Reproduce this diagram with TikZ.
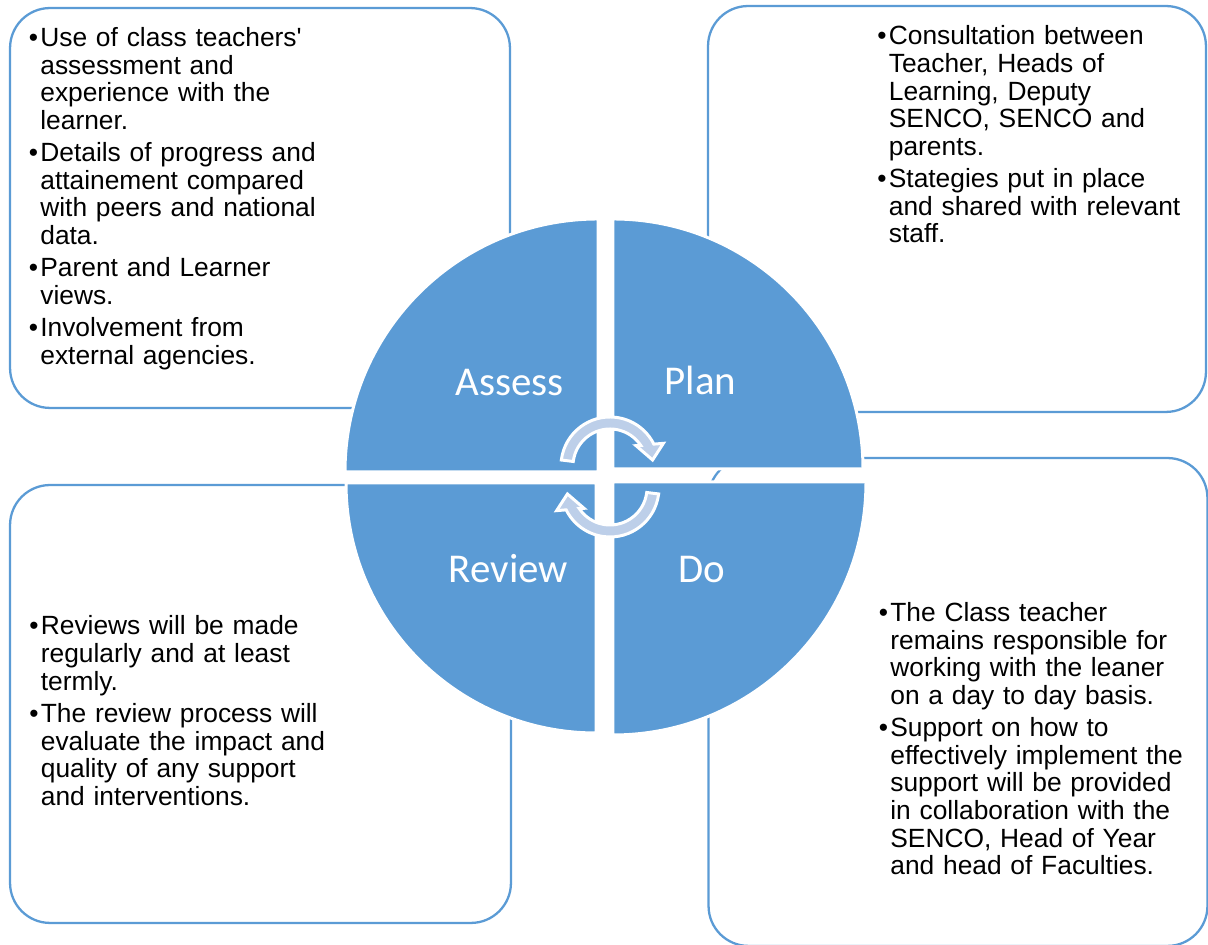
\documentclass[tikz,border=0pt]{standalone}
\usepackage{fontspec}
\setmainfont{Liberation Sans}
\newfontfamily\calfont{Carlito}
\usepackage{tikz}
\definecolor{cycleblue}{RGB}{91,155,213}
\definecolor{arrowblue}{RGB}{189,207,233}
\newcommand{\bul}{\leftskip=6.55pt\hspace*{-6.55pt}\makebox[6.55pt][l]{\textbullet}}
\newcommand{\nxt}{\par\vspace{2.7pt}}

\begin{document}
\begin{tikzpicture}[
    x=0.02cm, y=0.02cm,
    box/.style={rectangle, draw=cycleblue, fill=white, line width=1.3pt, rounded corners=0.8cm},
    quad/.style={fill=cycleblue, draw=white, line width=1.7pt},
    lbl/.style={anchor=base, inner sep=0pt, text=white, font=\calfont\fontsize{23.3}{28}\selectfont},
    txt/.style={anchor=base west, inner sep=0pt, text width=6.6cm, font=\fontsize{15}{15.7}\selectfont},
    cyc/.style={fill=arrowblue, draw=white, line width=1.7pt, line join=miter}
]
    \useasboundingbox (0,0) rectangle (1208,945);

    \node[box, minimum width=10cm, minimum height=8cm] (assessbox) at (260,737) {};
    \node[box, minimum width=9.96cm, minimum height=8.12cm] (planbox) at (957,736) {};
    \node[box, minimum width=9.98cm, minimum height=9.76cm] (dobox) at (958,243) {};
    \node[box, minimum width=10.02cm, minimum height=8.76cm] (reviewbox) at (260.5,241) {};

    \node[txt] (assesstxt) at (28.5,898.3) {\bul Use of class teachers\textquotesingle\\ assessment and\\ experience with the\\ learner.\nxt
        \bul Details of progress and\\ attainement compared\\ with peers and national\\ data.\nxt
        \bul Parent and Learner\\ views.\nxt
        \bul Involvement from\\ external agencies.\par};
    \node[txt] (plantxt) at (877,900) {\bul Consultation between\\ Teacher, Heads of\\ Learning, Deputy\\ SENCO, SENCO and\\ parents.\nxt
        \bul Stategies put in place\\ and shared with relevant\\ staff.\par};
    \node[txt] (dotxt) at (878.5,323.3) {\bul The Class teacher\\ remains responsible for\\ working with the leaner\\ on a day to day basis.\nxt
        \bul Support on how to\\ effectively implement the\\ support will be provided\\ in collaboration with the\\ SENCO, Head of Year\\ and head of Faculties.\par};
    \node[txt] (reviewtxt) at (29,310) {\bul Reviews will be made\\ regularly and at least\\ termly.\nxt
        \bul The review process will\\ evaluate the impact and\\ quality of any support\\ and interventions.\par};

    \draw[quad] (598,473) -- ++(180:253) arc[start angle=180, end angle=90, radius=253] -- cycle;
    \draw[quad] (613,476) -- ++(90:250) arc[start angle=90, end angle=0, radius=250] -- cycle;
    \draw[quad] (596,462) -- ++(180:250) arc[start angle=180, end angle=270, radius=250] -- cycle;
    \draw[quad] (613,463) -- ++(0:253) arc[start angle=0, end angle=-90, radius=253] -- cycle;

    \node[lbl] (assess) at (509.6,549.6) {Assess};
    \node[lbl] (plan) at (700.4,550) {Plan};
    \node[lbl] (review) at (508.3,362.3) {Review};
    \node[lbl] (do) at (701.6,362.3) {Do};

    \begin{scope}[shift={(610,479)}]
        \draw[cyc] (173:49) arc[start angle=173, end angle=26.5, radius=49] -- (23:58) -- (8:43) -- (38:33) -- (33.8:37) arc[start angle=33.8, end angle=173, radius=37] -- cycle;
    \end{scope}
    \begin{scope}[shift={(610,457)}, rotate=180]
        \draw[cyc] (173:49) arc[start angle=173, end angle=26.5, radius=49] -- (23:58) -- (8:43) -- (38:33) -- (33.8:37) arc[start angle=33.8, end angle=173, radius=37] -- cycle;
    \end{scope}
\end{tikzpicture}
\end{document}
